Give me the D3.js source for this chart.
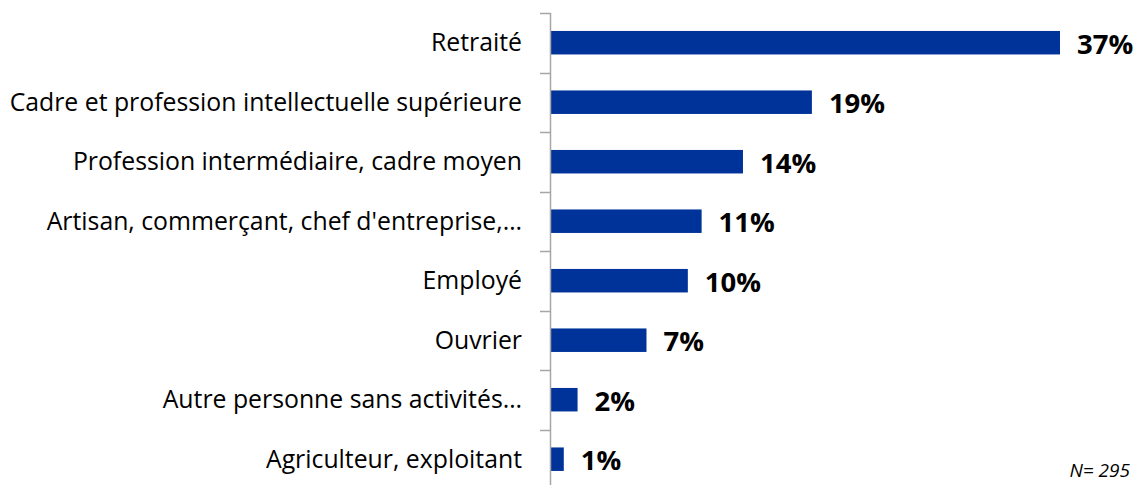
<!DOCTYPE html>
<html><head><meta charset="utf-8">
<script src="https://cdn.jsdelivr.net/npm/d3@7"></script>
<style>body{margin:0;background:#fff;overflow:hidden}</style>
</head><body>
<svg id="c" width="1138" height="485"></svg>
<script>
const categories = ["Retraité","Cadre et profession intellectuelle supérieure","Profession intermédiaire, cadre moyen","Artisan, commerçant, chef d'entreprise,…","Employé","Ouvrier","Autre personne sans activités…","Agriculteur, exploitant"];
const values = [37,19,14,11,10,7,2,1];
const valueLabels = ["37%","19%","14%","11%","10%","7%","2%","1%"];
const note = "N= 295";

const svg = d3.select("#c");
const x = d3.scaleLinear().domain([0,37]).range([550,1060]);
const y = d3.scaleBand().domain(categories).range([13,489]).paddingInner(0.6).paddingOuter(0.3);

svg.selectAll("rect.bar").data(values).join("rect")
  .attr("x", x(0)).attr("y",(d,i)=>y(categories[i]) + y.bandwidth()/2 - 11.8)
  .attr("width", d=>x(d)-x(0)).attr("height", 23.5)
  .attr("fill","#003399");

const g = svg.append("g");
g.append("line").attr("x1",550.5).attr("x2",550.5).attr("y1",13).attr("y2",489).attr("stroke","#a6a6a6").attr("stroke-width",1.5);
const ticks = categories.map((c)=>y(c) - y.step()*y.paddingInner()/2);
ticks.push(489);
g.selectAll("line.t").data(ticks).join("line").attr("class","t")
  .attr("x1",540).attr("x2",551).attr("y1",d=>Math.round(d)+0.5).attr("y2",d=>Math.round(d)+0.5)
  .attr("stroke","#a6a6a6").attr("stroke-width",1.5);

svg.selectAll("text.cat").data(categories).join("text").attr("class","cat")
  .attr("x",522).attr("y",d=>y(d)+y.bandwidth()/2 + 8.5)
  .attr("text-anchor","end").attr("font-family","'Open Sans', sans-serif").attr("font-size",24.8)
  .attr("fill","#000").text(d=>d);

svg.selectAll("text.val").data(values).join("text").attr("class","val")
  .attr("x",d=>x(d)+17).attr("y",(d,i)=>y(categories[i])+y.bandwidth()/2 + 11)
  .attr("font-family","'Open Sans', sans-serif").attr("font-weight","bold").attr("font-size",27.5)
  .attr("fill","#000").text((d,i)=>valueLabels[i]);

svg.append("text").attr("x",1130).attr("y",477).attr("text-anchor","end").attr("font-family","'Open Sans', sans-serif")
  .attr("font-style","italic").attr("font-size",19).text(note);
</script>
</body></html>
